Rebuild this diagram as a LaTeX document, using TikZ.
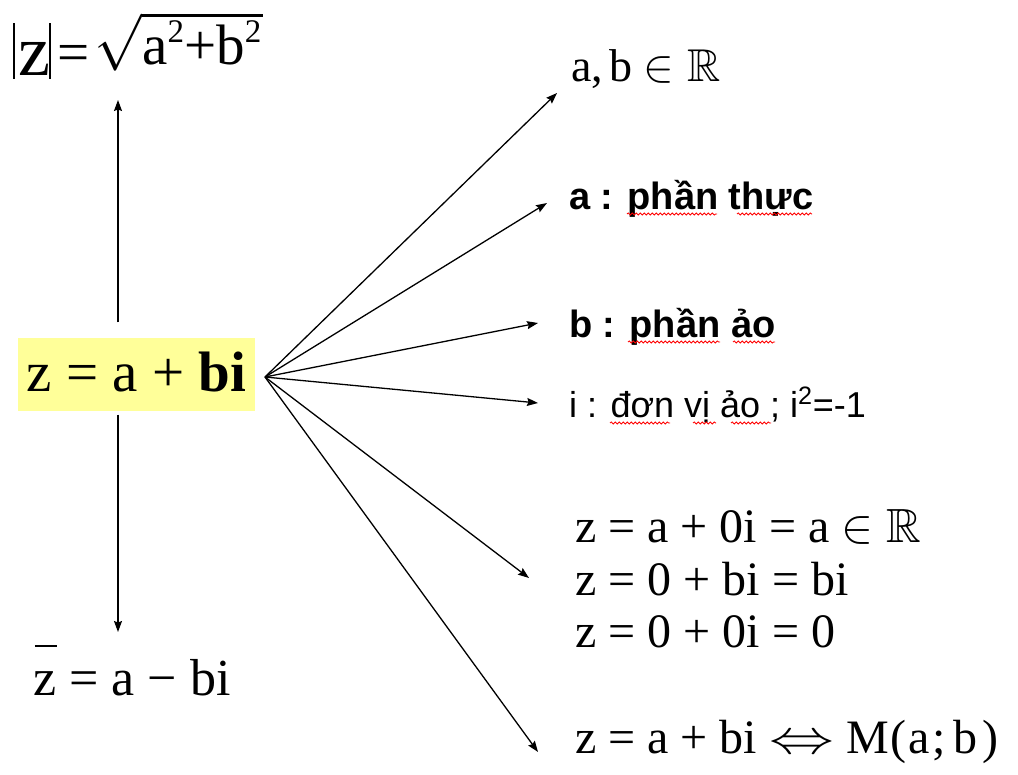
\RequirePackage{fix-cm}
\documentclass[tikz,border=0pt]{standalone}
\usepackage{amsmath,amssymb}
\usepackage{fontspec}
\setmainfont{Liberation Serif}
\newfontfamily\arialfont{Liberation Sans}
\usetikzlibrary{arrows.meta,decorations.pathmorphing}
\definecolor{zyellow}{HTML}{FFFF99}
\newcommand{\supii}{\raisebox{22pt}{\fontsize{33}{33}\selectfont 2}}
\begin{document}
\begin{tikzpicture}[x=1pt,y=-1pt,
  arr/.style={-{Stealth[length=11pt,width=8pt,inset=1.5pt]}, line width=1.3pt},
  txt/.style={anchor=base west, inner sep=0pt},
  mth/.style={txt, font=\fontsize{48}{48}\selectfont},
  vietb/.style={txt, font=\fontsize{38}{38}\selectfont\arialfont\bfseries},
  vietr/.style={txt, font=\fontsize{36}{36}\selectfont\arialfont},
  wavy/.style={red, line width=0.8pt, decorate, decoration={snake, amplitude=1.1pt, segment length=4pt}}]
\useasboundingbox (0,0) rectangle (1018,775);

% main box
\node[fill=zyellow, minimum width=237pt, minimum height=73pt, inner sep=0pt,
      text depth=0pt, text height=34pt] (main) at (136.5,375)
  {\fontsize{57}{57}\selectfont z = a + \textbf{bi}};

% modulus
\node[txt] (modz) at (13,76) {\rule[-3pt]{1.8pt}{56pt}\kern3pt{\fontsize{72}{72}\selectfont z}\kern-1pt\rule[-3pt]{1.8pt}{56pt}\kern7pt\raisebox{11pt}{\fontsize{57}{57}\selectfont \raisebox{-7pt}{=}\kern5pt$\sqrt{\vphantom{\mathrm{b}}\smash{\hbox{a\supii+b\supii\kern2pt}}}$}};

% conjugate
\node[txt] (conj) at (33,695) {\fontsize{52}{52}\selectfont\makebox[0pt][l]{\kern0.03em\raisebox{0.92em}{\rule{0.42em}{0.04em}}}z = a − bi};

% vertical arrows
\coordinate (uptip) at (118,100);
\coordinate (dntip) at (118,632);
\draw[arr] ([yshift=16pt]main.north -| uptip) -- (uptip);
\draw[arr] ([yshift=-3pt]main.south -| dntip) -- (dntip);

% right texts
\node[txt, font=\fontsize{46}{46}\selectfont] (ab) at (571,82) {a,\kern6pt b $\in\mathbb{R}$};
\node[vietb] (re) at (569,210) {a : phần thực};
\node[vietb] (im) at (569,338) {b : phần ảo};
\node[vietr] (unit) at (569,418) {i : đơn vị ảo ; i\textsuperscript{2}=-1};
\node[mth] (c1) at (575,543) {z = a + 0i = a $\in\mathbb{R}$};
\node[mth] (c2) at (575,595) {z = 0 + bi = bi};
\node[mth] (c3) at (575,647) {z = 0 + 0i = 0};
\node[mth] (pt) at (575,753) {z = a + bi \scalebox{1.35}[1]{$\Leftrightarrow$} M\kern2pt(\kern2pt a\kern2pt;\kern8pt b\kern5pt)};

% fan arrows
\coordinate (o) at (265,377);
\coordinate (t1) at (557,93);
\coordinate (t2) at (547,203);
\coordinate (t3) at (538,323);
\coordinate (t4) at (538,403);
\coordinate (t5) at (529,578);
\coordinate (t6) at (538,752);
\foreach \t in {t1,t2,t3,t4,t5,t6} \draw[arr] (o) -- (\t);

% spell-check underlines
\draw[wavy] (627,214) -- (717,214);
\draw[wavy] (737,214) -- (812,214);
\draw[wavy] (628,342) -- (720,342);
\draw[wavy] (733,342) -- (775,342);
\draw[wavy] (610,423) -- (670,423);
\draw[wavy] (693,423) -- (716,423);
\draw[wavy] (731,423) -- (771,423);
\end{tikzpicture}
\end{document}
